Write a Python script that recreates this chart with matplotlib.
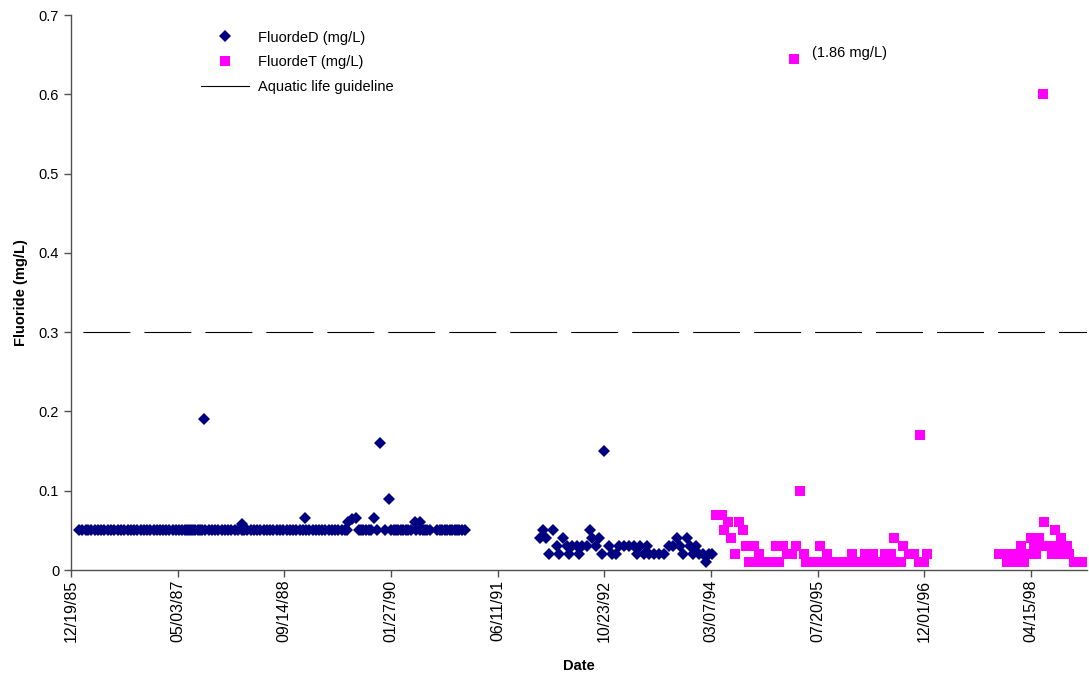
import numpy as np
import pandas as pd
import matplotlib
matplotlib.use("Agg")
import matplotlib.pyplot as plt
import matplotlib.dates as mdates
from matplotlib.lines import Line2D
from matplotlib.ticker import FuncFormatter

plt.rcParams['font.family'] = ['Liberation Sans', 'DejaVu Sans']
plt.rcParams['lines.scale_dashes'] = False

# dissolved fluoride (mg/L), twice-monthly sampling through mid 1989
fluor_d_dates = [
    '1986-01-25', '1986-02-10', '1986-02-25', '1986-03-10', '1986-03-25', '1986-04-10',
    '1986-04-25', '1986-05-10', '1986-05-25', '1986-06-10', '1986-06-25', '1986-07-10',
    '1986-07-25', '1986-08-10', '1986-08-25', '1986-09-10', '1986-09-25', '1986-10-10',
    '1986-10-25', '1986-11-10', '1986-11-25', '1986-12-10', '1986-12-25',
    '1987-01-10', '1987-01-25', '1987-02-10', '1987-02-25', '1987-03-10', '1987-03-25',
    '1987-04-10', '1987-04-25', '1987-05-10', '1987-05-25', '1987-06-05', '1987-06-15',
    '1987-06-25', '1987-07-05', '1987-07-15', '1987-07-25', '1987-08-05', '1987-08-15',
    '1987-08-25', '1987-09-03', '1987-09-10', '1987-09-25', '1987-10-10', '1987-10-25',
    '1987-11-10', '1987-11-25', '1987-12-10', '1987-12-25',
    '1988-01-10', '1988-01-25', '1988-02-10', '1988-02-28', '1988-03-01', '1988-03-10',
    '1988-03-25', '1988-04-10', '1988-04-25', '1988-05-10', '1988-05-25', '1988-06-10',
    '1988-06-25', '1988-07-10', '1988-07-25', '1988-08-10', '1988-08-25', '1988-09-10',
    '1988-09-25', '1988-10-10', '1988-10-25', '1988-11-10', '1988-11-25', '1988-12-10',
    '1988-12-19', '1988-12-25',
    '1989-01-10', '1989-01-25', '1989-02-10', '1989-02-25', '1989-03-10', '1989-03-25',
    '1989-04-10', '1989-04-25', '1989-05-10', '1989-05-25', '1989-06-10', '1989-06-25',
    '1989-07-05', '1989-07-09', '1989-07-28', '1989-08-16', '1989-08-28', '1989-09-08',
    '1989-09-20', '1989-10-02', '1989-10-14', '1989-10-25', '1989-11-08', '1989-11-22',
    '1989-12-06', '1989-12-29',
    '1990-01-17', '1990-01-27', '1990-02-08', '1990-02-19', '1990-03-03', '1990-03-14',
    '1990-03-26', '1990-04-07', '1990-04-19', '1990-04-30', '1990-05-21', '1990-05-24',
    '1990-06-10', '1990-06-12', '1990-06-24', '1990-07-05', '1990-07-17', '1990-07-29',
    '1990-08-31', '1990-09-12', '1990-09-23', '1990-10-05', '1990-10-17', '1990-10-29',
    '1990-11-09', '1990-11-21', '1990-12-02', '1990-12-14', '1990-12-26', '1991-01-09',
    '1991-12-28', '1992-01-11', '1992-01-25', '1992-02-08', '1992-02-27', '1992-03-17',
    '1992-03-26', '1992-04-14', '1992-05-03', '1992-05-12', '1992-05-26', '1992-06-18',
    '1992-06-28', '1992-07-12', '1992-08-04', '1992-08-18', '1992-08-28', '1992-09-16',
    '1992-09-30', '1992-10-14', '1992-10-23', '1992-11-15', '1992-11-29', '1992-12-18',
    '1993-01-01', '1993-01-25', '1993-02-17', '1993-03-13', '1993-03-27', '1993-04-10',
    '1993-04-28', '1993-05-12', '1993-05-22', '1993-06-14', '1993-07-08', '1993-07-31',
    '1993-08-24', '1993-09-11', '1993-09-30', '1993-10-14', '1993-10-28', '1993-11-16',
    '1993-11-30', '1993-12-14', '1993-12-28', '1994-01-11', '1994-01-30', '1994-02-13',
    '1994-02-27', '1994-03-13',
]
fluor_d_values = [
    0.05, 0.05, 0.05, 0.05, 0.05, 0.05,
    0.05, 0.05, 0.05, 0.05, 0.05, 0.05,
    0.05, 0.05, 0.05, 0.05, 0.05, 0.05,
    0.05, 0.05, 0.05, 0.05, 0.05,
    0.05, 0.05, 0.05, 0.05, 0.05, 0.05,
    0.05, 0.05, 0.05, 0.05, 0.05, 0.05,
    0.05, 0.05, 0.05, 0.05, 0.05, 0.05,
    0.05, 0.19, 0.05, 0.05, 0.05, 0.05,
    0.05, 0.05, 0.05, 0.05,
    0.05, 0.05, 0.05, 0.058, 0.05, 0.05,
    0.05, 0.05, 0.05, 0.05, 0.05, 0.05,
    0.05, 0.05, 0.05, 0.05, 0.05, 0.05,
    0.05, 0.05, 0.05, 0.05, 0.05, 0.05,
    0.065, 0.05,
    0.05, 0.05, 0.05, 0.05, 0.05, 0.05,
    0.05, 0.05, 0.05, 0.05, 0.05, 0.05,
    0.05, 0.061, 0.064, 0.066, 0.05, 0.05,
    0.05, 0.05, 0.05, 0.05, 0.065, 0.05,
    0.16, 0.05,
    0.09, 0.05, 0.05, 0.05, 0.05, 0.05,
    0.05, 0.05, 0.05, 0.05, 0.06, 0.05,
    0.06, 0.05, 0.05, 0.05, 0.05, 0.05,
    0.05, 0.05, 0.05, 0.05, 0.05, 0.05,
    0.05, 0.05, 0.05, 0.05, 0.05, 0.05,
    0.04, 0.05, 0.04, 0.02, 0.05, 0.03,
    0.02, 0.04, 0.03, 0.02, 0.03, 0.03,
    0.02, 0.03, 0.03, 0.05, 0.04, 0.03,
    0.04, 0.02, 0.15, 0.03, 0.02, 0.02,
    0.03, 0.03, 0.03, 0.03, 0.02, 0.03,
    0.02, 0.03, 0.02, 0.02, 0.02, 0.02,
    0.03, 0.03, 0.04, 0.03, 0.02, 0.04,
    0.03, 0.02, 0.03, 0.02, 0.02, 0.01,
    0.02, 0.02,
]

# total fluoride (mg/L)
fluor_t_dates = [
    '1994-03-30', '1994-04-28', '1994-05-08', '1994-05-24', '1994-06-09', '1994-06-27',
    '1994-07-18', '1994-08-02', '1994-08-18', '1994-09-02', '1994-09-26', '1994-10-05',
    '1994-10-19', '1994-11-07', '1994-12-19', '1995-01-06', '1995-01-21', '1995-02-09',
    '1995-02-28', '1995-03-23', '1995-03-29', '1995-04-10', '1995-04-28', '1995-05-18',
    '1995-05-28', '1995-06-20', '1995-07-13', '1995-08-01', '1995-08-06', '1995-08-30',
    '1995-09-03', '1995-09-22', '1995-10-16', '1995-11-08', '1995-12-02', '1995-12-20',
    '1995-12-26', '1996-01-18', '1996-02-11', '1996-02-25', '1996-03-06', '1996-03-29',
    '1996-04-03', '1996-04-22', '1996-05-15', '1996-05-29', '1996-06-08', '1996-06-27',
    '1996-07-13', '1996-07-21', '1996-08-13', '1996-08-21', '1996-09-21', '1996-10-15',
    '1996-11-07', '1996-11-12', '1996-12-01', '1996-12-16',
    '1997-11-17', '1997-12-24', '1998-01-03', '1998-02-03', '1998-02-18', '1998-02-27',
    '1998-03-14', '1998-04-07', '1998-04-15', '1998-04-30', '1998-05-10', '1998-05-23',
    '1998-06-02', '1998-06-11', '1998-06-16', '1998-07-01', '1998-07-25', '1998-08-05',
    '1998-08-17', '1998-09-02', '1998-09-08', '1998-10-03', '1998-10-11', '1998-11-03',
    '1998-12-12',
]
fluor_t_values = [
    0.07, 0.07, 0.05, 0.06, 0.04, 0.02,
    0.06, 0.05, 0.03, 0.01, 0.03, 0.01,
    0.02, 0.01, 0.01, 0.03, 0.01, 0.03,
    0.02, 0.02, 1.86, 0.03, 0.10, 0.02,
    0.01, 0.01, 0.01, 0.03, 0.01, 0.01,
    0.02, 0.01, 0.01, 0.01, 0.01, 0.01,
    0.02, 0.01, 0.01, 0.02, 0.01, 0.01,
    0.02, 0.01, 0.01, 0.02, 0.01, 0.02,
    0.04, 0.01, 0.01, 0.03, 0.02, 0.02,
    0.01, 0.17, 0.01, 0.02,
    0.02, 0.01, 0.02, 0.01, 0.02, 0.03,
    0.01, 0.02, 0.04, 0.03, 0.02, 0.04,
    0.03, 0.60, 0.06, 0.03, 0.02, 0.05,
    0.03, 0.04, 0.02, 0.03, 0.02, 0.01,
    0.01,
]

guideline = 0.3
y_ticks = [0, 0.1, 0.2, 0.3, 0.4, 0.5, 0.6, 0.7]

# readings above this are drawn at the top and labelled with their value
off_scale_top = 0.645

d_dates = pd.to_datetime(fluor_d_dates)
t_dates = pd.to_datetime(fluor_t_dates)
t_vals = np.array(fluor_t_values)
t_plot = np.minimum(t_vals, off_scale_top)

navy = '#000080'
magenta = '#ff00ff'
d_ms = 6.4
t_ms = 7.2

fig = plt.figure(figsize=(10.89, 6.76), dpi=100)
ax = fig.add_axes([0.0652, 0.1568, 0.9326, 0.821])

ax.plot(d_dates, fluor_d_values, linestyle='none', marker='D', ms=d_ms,
        mew=0, color=navy, zorder=3)
ax.plot(t_dates, t_plot, linestyle='none', marker='s', ms=t_ms,
        mew=0, color=magenta, zorder=3)
ax.axhline(guideline, color='black', lw=0.8,
           linestyle=(35.3, (33.8, 10.1)), zorder=2)

for d, v, p in zip(t_dates, t_vals, t_plot):
    if v > off_scale_top:
        ax.annotate(f'({v:.2f} mg/L)', xy=(d, p), xytext=(13, 4),
                    textcoords='offset points', ha='left', va='center',
                    fontsize=10.5)

x_start = pd.Timestamp('1985-12-19')
ax.set_xlim(x_start, pd.Timestamp('1999-01-01'))
ax.set_ylim(0, 0.7)
ax.xaxis.set_major_locator(mdates.ticker.FixedLocator(
    mdates.date2num(pd.date_range(x_start, periods=10, freq='500D'))))
ax.xaxis.set_major_formatter(mdates.DateFormatter('%m/%d/%y'))
ax.set_yticks(y_ticks)
ax.yaxis.set_major_formatter(FuncFormatter(lambda v, p: f'{v:g}'))

for s in ['top', 'right']:
    ax.spines[s].set_visible(False)
for s in ['left', 'bottom']:
    ax.spines[s].set_color('#505050')
    ax.spines[s].set_linewidth(1.0)
ax.tick_params(axis='both', direction='out', length=5, width=1,
               color='#505050', labelsize=10.5)
ax.tick_params(axis='x', rotation=90, pad=2, labelsize=11.5)

ax.set_xlabel('Date', fontsize=10.5, fontweight='bold', labelpad=12)
ax.set_ylabel('Fluoride (mg/L)', fontsize=10.5, fontweight='bold', labelpad=8)

handles = [
    Line2D([], [], linestyle='none', marker='D', ms=d_ms, mew=0, color=navy),
    Line2D([], [], linestyle='none', marker='s', ms=t_ms, mew=0, color=magenta),
    Line2D([], [], color='black', lw=0.8),
]
labels = ['FluordeD (mg/L)', 'FluordeT (mg/L)', 'Aquatic life guideline']
ax.legend(handles, labels, loc='upper left', bbox_to_anchor=(0.128, 0.972),
          frameon=False, fontsize=10.5, handlelength=3.3, handletextpad=0.6,
          labelspacing=0.75, borderpad=0, borderaxespad=0)

fig.savefig('out.png', dpi=100)
